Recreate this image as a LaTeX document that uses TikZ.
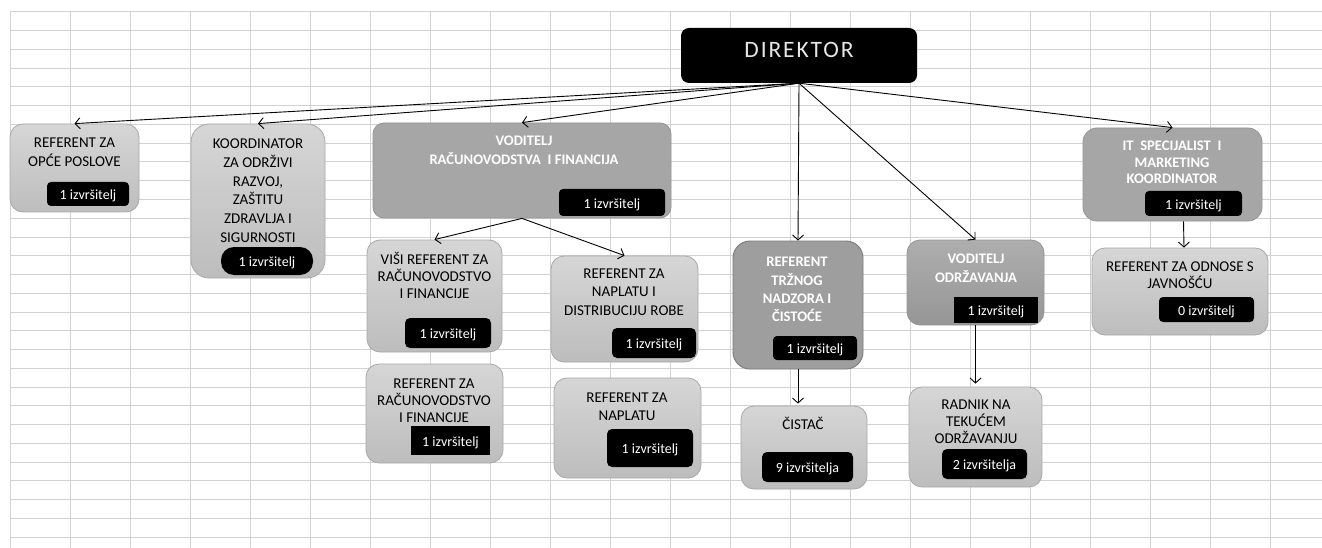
\documentclass[tikz,border=0pt]{standalone}
\usepackage{fontspec}
\setmainfont{Carlito}
\usetikzlibrary{arrows.meta,calc}
\definecolor{gridc}{HTML}{D2D2D2}
\definecolor{lighttop}{HTML}{D6D6D6}
\definecolor{lightbot}{HTML}{BDBDBD}
\definecolor{lightbd}{HTML}{A8A8A8}
\definecolor{darkfill}{HTML}{A6A6A6}
\definecolor{darkbd}{HTML}{959595}
\definecolor{trzfill}{HTML}{9E9E9E}
\definecolor{trzbd}{HTML}{7A7A7A}
\definecolor{odrtop}{HTML}{AEAEAE}
\definecolor{odrbot}{HTML}{969696}
\definecolor{dirtext}{HTML}{E6E6E6}
\begin{document}
\begin{tikzpicture}[x=1pt,y=-1pt,
  lbox/.style={draw=lightbd, line width=0.8pt, rounded corners=13pt, top color=lighttop, bottom color=lightbot, inner sep=0pt},
  dbox/.style={draw=darkbd, line width=0.8pt, rounded corners=11pt, fill=darkfill, inner sep=0pt},
  badge/.style={fill=black, text=white, rounded corners=4pt, inner sep=0pt, text height=11.5pt, text depth=0pt, font=\fontsize{14}{16}\selectfont},
  tx/.style={anchor=north, align=center, inner sep=0pt, font=\fontsize{15}{#1}\selectfont},
  btx/.style={anchor=north, align=center, inner sep=0pt, text=white, font=\fontsize{14.6}{#1}\selectfont\bfseries},
  arr/.style={draw=black, line width=0.9pt, -{Straight Barb[length=5pt,width=11pt]}},
  gridline/.style={draw=gridc, line width=1pt}
]
\useasboundingbox (0,0) rectangle (1322,548);
\fill[white] (0,0) rectangle (1322,548);
% spreadsheet grid
\foreach \k in {0,...,21} { \draw[gridline] ({10+60*\k},12) -- ({10+60*\k},548); }
\foreach \k in {0,...,28} { \draw[gridline] (10,{12+18.75*\k}) -- (1322,{12+18.75*\k}); }

% director
\node[fill=black, rounded corners=8pt, minimum width=236pt, minimum height=55pt, inner sep=0pt,
      text=dirtext, text height=15.2pt, text depth=11pt,
      font=\fontsize{23.5}{28}\selectfont\addfontfeature{LetterSpace=8}] (dir) at (799,55.5) {DIREKTOR};

% 1 referent za opce poslove
\node[lbox, minimum width=129pt, minimum height=88pt] (opce) at (74.5,168) {};
\node[tx=19] (opcet) at (74.5,135.8) {\rule{0pt}{12pt}REFERENT ZA\\OPĆE POSLOVE};
\node[badge, minimum width=82pt, minimum height=24pt] (opceb) at (88,194) {1 izvršitelj};

% 2 koordinator
\node[lbox, rounded corners=18pt, minimum width=134pt, minimum height=154pt] (koord) at (258,201) {};
\node[tx=18.6] (koordt) at (258,136.8) {\rule{0pt}{12pt}KOORDINATOR\\ZA ODRŽIVI\\RAZVOJ,\\ZAŠTITU\\ZDRAVLJA I\\SIGURNOSTI};
\node[badge, rounded corners=13pt, minimum width=92pt, minimum height=28pt] (koordb) at (267,261) {1 izvršitelj};

% 3 voditelj racunovodstva
\node[dbox, minimum width=298pt, minimum height=95pt] (vodrac) at (522,170.5) {};
\node[btx=19] (vodract) at (524,133.6) {\rule{0pt}{12pt}VODITELJ\\RAČUNOVODSTVA\ \ I FINANCIJA};
\node[badge, minimum width=106pt, minimum height=27pt] (vodracb) at (612,202.5) {1 izvršitelj};

% 4 visi referent
\node[lbox, minimum width=135pt, minimum height=112pt] (visi) at (434.5,296) {};
\node[tx=17] (visit) at (434.5,251.8) {\rule{0pt}{12pt}VIŠI REFERENT ZA\\RAČUNOVODSTVO\\I FINANCIJE};
\node[badge, rounded corners=5pt, minimum width=86pt, minimum height=30pt] (visib) at (448,333) {1 izvršitelj};

% 5 referent za naplatu i distribuciju robe
\node[lbox, minimum width=147pt, minimum height=106pt] (naplrob) at (624.5,309) {};
\node[tx=18.5] (naplrobt) at (624,265.8) {\rule{0pt}{12pt}REFERENT ZA\\NAPLATU I\\DISTRIBUCIJU ROBE};
\node[badge, rounded corners=5pt, minimum width=84pt, minimum height=30pt] (naplrobb) at (654,343) {1 izvršitelj};

% 6 referent za racunovodstvo
\node[lbox, minimum width=137pt, minimum height=99pt] (refrac) at (434.5,413.5) {};
\node[tx=17] (refract) at (434,375.8) {\rule{0pt}{12pt}REFERENT ZA\\RAČUNOVODSTVO\\I FINANCIJE};
\node[badge, rounded corners=0pt, minimum width=79pt, minimum height=29pt] (refracb) at (450.5,440.5) {1 izvršitelj};

% 7 referent za naplatu
\node[lbox, minimum width=147pt, minimum height=100pt] (napl) at (627.5,428) {};
\node[tx=18.5] (naplt) at (627,389.8) {\rule{0pt}{12pt}REFERENT ZA\\NAPLATU};
\node[badge, rounded corners=5pt, minimum width=86pt, minimum height=38pt] (naplb) at (650,448) {1 izvršitelj};

% 8 referent trznog nadzora
\node[draw=trzbd, line width=0.9pt, rounded corners=17pt, fill=trzfill, inner sep=0pt, minimum width=130pt, minimum height=128pt] (trz) at (798,305) {};
\node[btx=18.3] (trzt) at (797,254.6) {\rule{0pt}{12pt}REFERENT\\TRŽNOG\\NADZORA I\\ČISTOĆE};
\node[badge, minimum width=84pt, minimum height=24pt] (trzb) at (815,348) {1 izvršitelj};

% 9 cistac
\node[lbox, minimum width=126pt, minimum height=83pt] (cist) at (804,447.5) {};
\node[tx=18] (cistt) at (803,416.8) {\rule{0pt}{12pt}ČISTAČ};
\node[badge, rounded corners=5pt, minimum width=91pt, minimum height=30pt] (cistb) at (807.5,467) {9 izvršitelja};

% 10 voditelj odrzavanja
\node[draw=darkbd, line width=0.8pt, rounded corners=13pt, top color=odrtop, bottom color=odrbot, inner sep=0pt, minimum width=137pt, minimum height=85pt] (odrz) at (975.5,282.5) {};
\node[btx=18.5] (odrzt) at (976,251.6) {\rule{0pt}{12pt}VODITELJ\\ODRŽAVANJA};
\node[badge, rounded corners=0pt, minimum width=84pt, minimum height=26pt] (odrzb) at (996,310) {1 izvršitelj};

% 11 radnik na tekucem odrzavanju
\node[lbox, minimum width=133pt, minimum height=100pt] (radnik) at (975.5,437) {};
\node[tx=17.4] (radnikt) at (976,396.8) {\rule{0pt}{12pt}RADNIK NA\\TEKUĆEM\\ODRŽAVANJU};
\node[badge, rounded corners=5pt, minimum width=85pt, minimum height=30pt] (radnikb) at (984.5,464) {2 izvršitelja};

% 12 IT specijalist
\node[dbox, rounded corners=14pt, minimum width=179pt, minimum height=93pt] (it) at (1172.5,174.5) {};
\node[btx=16.4] (itt) at (1172,138.6) {\rule{0pt}{12pt}IT\ \ SPECIJALIST\ \ I\\MARKETING\\KOORDINATOR};
\node[badge, minimum width=97pt, minimum height=25pt] (itb) at (1193.5,203.5) {1 izvršitelj};

% 13 referent za odnose s javnoscu
\node[lbox, minimum width=176pt, minimum height=87pt] (odnose) at (1180,291.5) {};
\node[tx=17] (odnoset) at (1180,258.8) {\rule{0pt}{12pt}REFERENT ZA ODNOSE S\\JAVNOŠĆU};
\node[badge, minimum width=95pt, minimum height=25pt] (odnoseb) at (1206.5,309.5) {0 izvršitelj};

% connectors
\draw[arr] (dir.south) -- (opce.north);
\draw[arr] (dir.south) -- (koord.north);
\draw[arr] (dir.south) -- (vodrac.north);
\draw[arr] (dir.south) -- (trz.north);
\draw[arr] (dir.south) -- (odrz.north);
\draw[arr] (dir.south) -- (it.north);
\draw[arr] (vodrac.south) -- (visi.north);
\draw[arr] (vodrac.south) -- (naplrob.north);
\draw[arr, shorten >=2pt] (trz.south) -- (trz.south |- cist.north);
\draw[arr, shorten >=3pt] (odrz.south) -- (radnik.north);
\draw[arr] ([xshift=11pt]it.south) -- ([xshift=4pt]odnose.north);
\end{tikzpicture}
\end{document}
